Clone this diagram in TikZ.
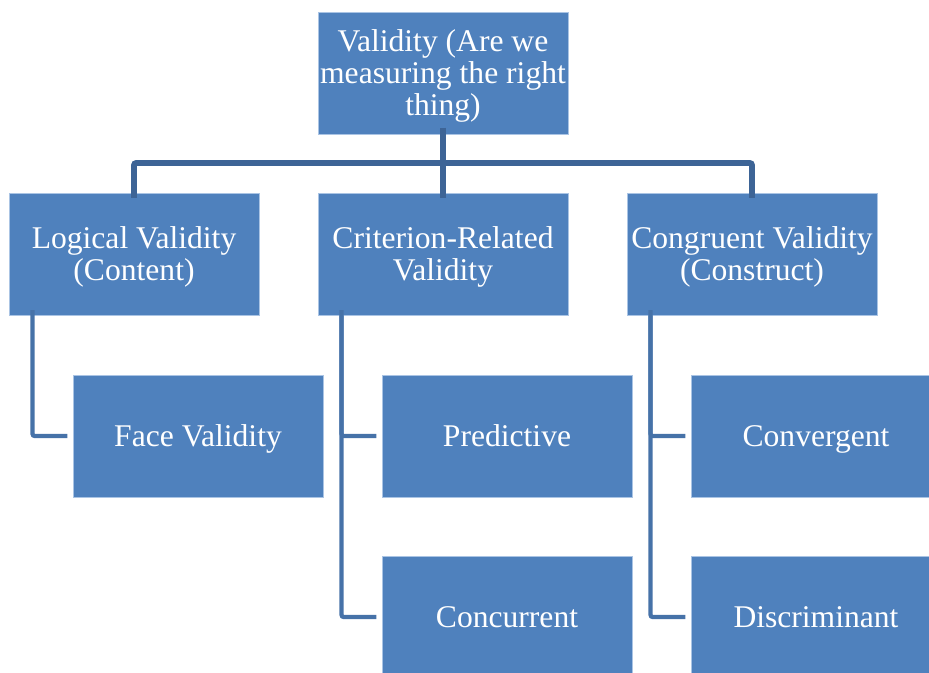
\documentclass[tikz,border=0pt]{standalone}
\usepackage{fontspec}
\setmainfont{Liberation Serif}
\definecolor{boxfill}{RGB}{79,129,189}
\definecolor{boxedge}{RGB}{170,196,228}
\definecolor{trunkline}{RGB}{61,100,150}
\definecolor{branchline}{RGB}{70,114,168}
\tikzset{
	vbox/.style={fill=boxfill, draw=boxedge, line width=0.6pt, minimum width=187.5pt, minimum height=91.5pt, inner sep=1pt, align=center, text depth=0pt, text=white, font=\fontsize{23.7}{24}\selectfont},
	trunk/.style={draw=trunkline, line width=4.2pt, rounded corners=1.5pt},
	branch/.style={draw=branchline, line width=3.2pt, rounded corners=1.5pt}
}
\begin{document}
\begin{tikzpicture}[x=0.75pt,y=0.75pt,yscale=-1,xscale=1]
		\useasboundingbox (0,0) rectangle (929,673);
		\clip (0,0) rectangle (929,673);
		\node [vbox] (top) at (443,73) {Validity (Are we\\measuring the right\\thing)};
		\node [vbox] (logical) at (134,254) {Logical Validity\\(Content)};
		\node [vbox] (criterion) at (443,254) {Criterion-Related\\Validity};
		\node [vbox] (congruent) at (752,254) {Congruent Validity\\(Construct)};
		\node [vbox] (face) at (198,436) {Face Validity};
		\node [vbox] (predictive) at (507,436) {Predictive};
		\node [vbox] (concurrent) at (507,617) {Concurrent};
		\node [vbox] (convergent) at (816,436) {Convergent};
		\node [vbox] (discriminant) at (816,617) {Discriminant};
		\coordinate (hub) at (443,163);
		\draw [trunk] ([yshift=-5pt]top.south) -- ([yshift=4pt]criterion.north);
		\draw [trunk] ([yshift=4pt]logical.north) |- (hub) -| ([yshift=4pt]congruent.north);
		\draw [branch] ([xshift=18pt,yshift=-4pt]logical.south west) |- ([xshift=-4pt]face.west);
		\draw [branch] ([xshift=18pt,yshift=-4pt]criterion.south west) |- ([xshift=-4pt]concurrent.west);
		\draw [branch] ([xshift=18pt]criterion.south west) |- ([xshift=-4pt]predictive.west);
		\draw [branch] ([xshift=18pt,yshift=-4pt]congruent.south west) |- ([xshift=-4pt]discriminant.west);
		\draw [branch] ([xshift=18pt]congruent.south west) |- ([xshift=-4pt]convergent.west);
\end{tikzpicture}
\end{document}
